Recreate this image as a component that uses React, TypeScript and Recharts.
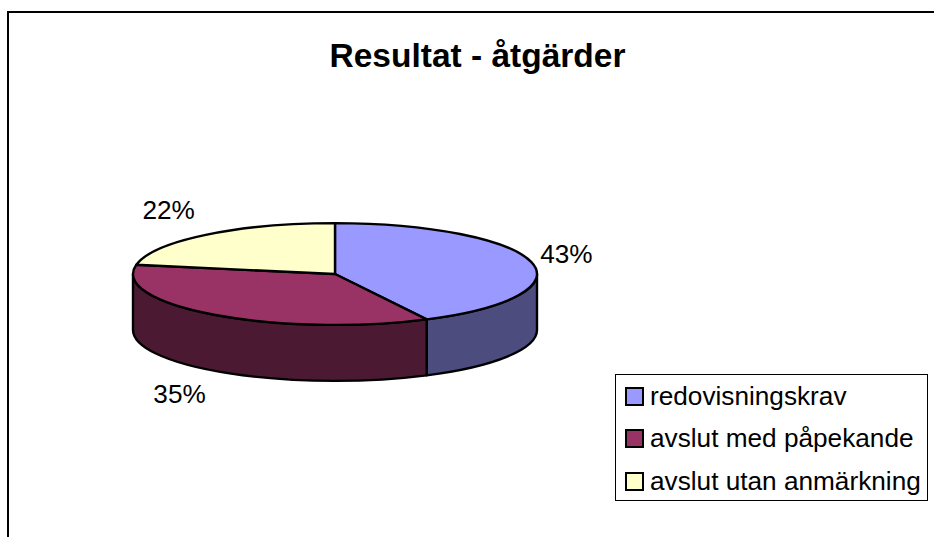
import React from "react";
import { Legend, Pie, PieChart } from "recharts";

const categories = ["redovisningskrav", "avslut med påpekande", "avslut utan anmärkning"];
// the labels round these to 43/35/22
const shares = [42.5, 35.4, 22.1];
const topColors = ["#9999ff", "#993366", "#ffffcc"];
const sideColors = ["#4c4c7f", "#4c1933", "#7f7f66"];

const data = categories.map((name, i) => ({ name, value: shares[i], fill: topColors[i] }));

const FONT = "'Liberation Sans', Arial, sans-serif";
const RADIAN = Math.PI / 180;
const SQUASH = 0.252; // ellipse height / width of the tilted pie
const DEPTH = 56;

const onEllipse = (cx: number, cy: number, r: number, angle: number) => ({
  x: cx + r * Math.cos(angle * RADIAN),
  y: cy - r * SQUASH * Math.sin(angle * RADIAN),
});

// Pie slice drawn as a tilted disc: side wall (front half only) plus flattened top
const TiltedSlice = ({ cx, cy, outerRadius, startAngle, endAngle, fill, index }: any) => {
  const rx = outerRadius;
  const ry = outerRadius * SQUASH;
  const a = onEllipse(cx, cy, rx, startAngle);
  const b = onEllipse(cx, cy, rx, endAngle);
  const large = Math.abs(startAngle - endAngle) > 180 ? 1 : 0;

  const wallStart = Math.min(startAngle, 0);
  const wallEnd = Math.max(endAngle, -180);
  let wall = null;
  if (wallStart > wallEnd) {
    const p = onEllipse(cx, cy, rx, wallStart);
    const q = onEllipse(cx, cy, rx, wallEnd);
    wall = (
      <path
        d={`M${p.x},${p.y} A${rx},${ry} 0 0 1 ${q.x},${q.y} L${q.x},${q.y + DEPTH} A${rx},${ry} 0 0 0 ${p.x},${p.y + DEPTH} Z`}
        fill={sideColors[index]}
        stroke="#000"
        strokeWidth={2.4}
        strokeLinejoin="round"
      />
    );
  }

  return (
    <g>
      {wall}
      <path
        d={`M${cx},${cy} L${a.x},${a.y} A${rx},${ry} 0 ${large} 1 ${b.x},${b.y} Z`}
        fill={fill}
        stroke="#000"
        strokeWidth={2.4}
        strokeLinejoin="round"
      />
    </g>
  );
};

const renderPercent = ({ cx, cy, midAngle, outerRadius, percent }: any) => {
  const cos = Math.cos(midAngle * RADIAN);
  const sin = Math.sin(midAngle * RADIAN);
  const x = cx + (outerRadius + (cos < 0 ? 58 : 36)) * cos;
  const y = cy - (outerRadius * SQUASH + 33) * sin + (sin < 0 ? DEPTH - 3 : 0);
  return (
    <text x={x} y={y} fill="#000" fontSize={26.2} fontFamily={FONT} textAnchor="middle" dominantBaseline="central">
      {`${Math.round(percent * 100)}%`}
    </text>
  );
};

const renderLegend = ({ payload }: any) => (
  <div
    style={{
      width: 313,
      height: 127,
      boxSizing: "border-box",
      border: "1px solid #000",
      background: "#fff",
      fontFamily: FONT,
      fontSize: 26.2,
      color: "#000",
    }}
  >
    {(payload ?? []).map((entry: any, i: number) => (
      <div key={entry.value} style={{ display: "flex", alignItems: "center", height: 42.5, whiteSpace: "nowrap" }}>
        <span
          style={{
            width: 15,
            height: 15,
            marginLeft: 9,
            marginRight: 6,
            border: "2px solid #000",
            background: topColors[i],
            display: "inline-block",
            flexShrink: 0,
          }}
        />
        {entry.value}
      </div>
    ))}
  </div>
);

export default function App() {
  return (
    <div style={{ position: "absolute", left: 0, top: 0, width: 934, height: 537, overflow: "hidden", background: "#fff" }}>
      <div style={{ position: "absolute", left: 7, top: 11, right: 0, bottom: 0, borderLeft: "2px solid #000", borderTop: "2px solid #000" }} />
      <PieChart width={934} height={537} margin={{ top: 0, right: 0, bottom: 0, left: 0 }} style={{ position: "absolute", left: 0, top: 0 }}>
        <text x={477.5} y={67} textAnchor="middle" fontFamily={FONT} fontSize={33.5} fontWeight="bold" fill="#000">
          Resultat - åtgärder
        </text>
        <Pie
          data={data}
          dataKey="value"
          nameKey="name"
          cx={335}
          cy={274}
          innerRadius={0}
          outerRadius={202}
          startAngle={90}
          endAngle={-270}
          paddingAngle={0}
          shape={TiltedSlice}
          label={renderPercent}
          labelLine={false}
          isAnimationActive={false}
        />
        <Legend
          content={renderLegend}
          itemSorter={null}
          wrapperStyle={{ position: "absolute", left: 615, top: 374, width: 314, bottom: "auto", right: "auto" }}
        />
      </PieChart>
    </div>
  );
}
